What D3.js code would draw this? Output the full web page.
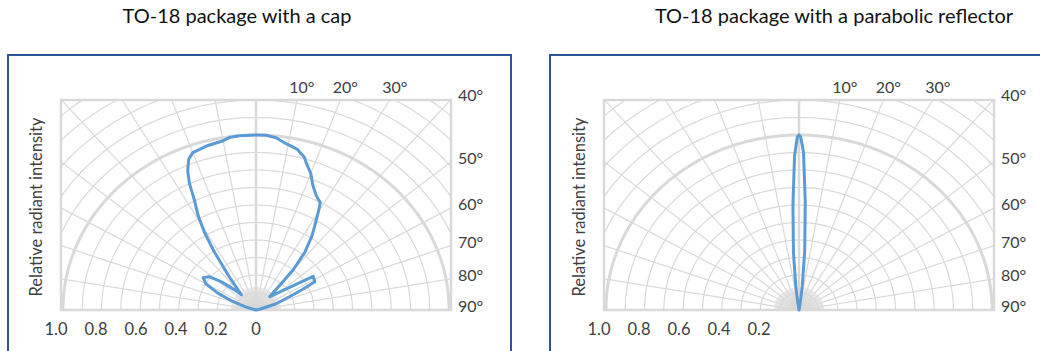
<!DOCTYPE html>
<html>
<head>
<meta charset="utf-8">
<script src="https://cdnjs.cloudflare.com/ajax/libs/d3/7.8.5/d3.min.js"></script>
<style>
body { margin: 0; background: #fff; }
svg text { font-family: Lato, "Open Sans", sans-serif; fill: #404040; }
</style>
</head>
<body>
<div class="container"></div>
<script>
// angle in degrees from the vertical axis, intensity relative to peak
var capAngles = [-90, -80, -72, -68, -64, -60, -56, -52, -48, -44, -41, -36, -33, -31, -29, -27, -25.5, -24, -22, -20, -15, -10, -8, -5, 0, 3, 6, 9.5, 13, 16, 17.5, 20, 22.5, 25.5, 28.5, 30, 33, 34.5, 37.5, 40, 41, 43, 57, 62, 64, 66, 71, 78, 80, 90];
var capIntensity = [0, 0, 0.05, 0.13, 0.22, 0.3, 0.33, 0.31, 0.24, 0.16, 0.115, 0.24, 0.4, 0.52, 0.62, 0.7, 0.8, 0.87, 0.93, 0.957, 0.972, 0.982, 0.995, 1.0, 1.0, 1.0, 0.99, 0.962, 0.944, 0.908, 0.874, 0.83, 0.77, 0.725, 0.697, 0.645, 0.55, 0.51, 0.415, 0.3, 0.2, 0.105, 0.353, 0.345, 0.27, 0.2, 0.11, 0.02, 0, 0];

var reflectorAngles = [-10, -8, -7, -5, -3, -1.5, -0.5, 0, 0.5, 1.5, 3, 5, 7, 8, 10];
var reflectorIntensity = [0, 0.06, 0.135, 0.33, 0.6, 0.88, 0.99, 1.0, 0.99, 0.9, 0.62, 0.34, 0.14, 0.07, 0];

var titles = ["TO-18 package with a cap", "TO-18 package with a parabolic reflector"];
var capTicks = ["1.0", "0.8", "0.6", "0.4", "0.2", "0"];
var reflectorTicks = ["1.0", "0.8", "0.6", "0.4", "0.2"];
var topAngles = [10, 20, 30];
var sideAngles = [40, 50, 60, 70, 80, 90];
var yTitle = "Relative radiant intensity";

const WIDTH = 1040;
const HEIGHT = 351;
const X_MAX = 1.01;
const Y_MAX = 1.2;

var toXY = function (s, deg, r) {
    var a = deg * Math.PI / 180;
    return [s.x(r * Math.sin(a)), s.y(r * Math.cos(a))];
};

var createScales = function (cx) {
    return {
        x: d3.scaleLinear().domain([-X_MAX, X_MAX]).range([cx - 195, cx + 195]),
        y: d3.scaleLinear().domain([0, Y_MAX]).range([310, 100]),
        tick: d3.scaleLinear().domain([0, 1]).range([cx, cx - 200])
    };
};

var drawChart = function (svg, id, frameX, cx, titleX, title, angles, values, ticks) {
    var s = createScales(cx);
    var grid = '#d9d9d9';

    svg.append('rect').attr('x', frameX).attr('y', 55).attr('width', 503).attr('height', 320)
        .attr('fill', 'none').attr('stroke', '#2f5597').attr('stroke-width', 2);

    svg.append('text').attr('x', titleX).attr('y', 23).attr('text-anchor', 'middle')
        .style('font-size', '20px').style('fill', '#111').text(title);

    svg.append('clipPath').attr('id', id).append('rect')
        .attr('x', s.x(-X_MAX)).attr('y', s.y(Y_MAX))
        .attr('width', s.x(X_MAX) - s.x(-X_MAX)).attr('height', s.y(0) - s.y(Y_MAX));

    var g = svg.append('g').attr('clip-path', 'url(#' + id + ')');
    var deg = d3.range(-90, 90.5, 1);

    // concentric intensity arcs
    d3.range(1, 16).forEach(function (k) {
        var r = k / 10;
        g.append('path')
            .attr('d', d3.line()(deg.map(function (d) { return toXY(s, d, r); })))
            .attr('fill', 'none').attr('stroke', grid)
            .attr('stroke-width', k === 10 ? 3 : 1.2);
    });

    // fine fan near the origin
    d3.range(-87.5, 88, 2.5).forEach(function (d) {
        if (d % 10 === 0) return;
        var p0 = toXY(s, d, 0), p1 = toXY(s, d, 0.13);
        g.append('line').attr('x1', p0[0]).attr('y1', p0[1]).attr('x2', p1[0]).attr('y2', p1[1])
            .attr('stroke', grid).attr('stroke-width', 0.7);
    });

    // radial angle lines
    d3.range(-80, 81, 10).forEach(function (d) {
        var p0 = toXY(s, d, 0), p1 = toXY(s, d, 2);
        g.append('line').attr('x1', p0[0]).attr('y1', p0[1]).attr('x2', p1[0]).attr('y2', p1[1])
            .attr('stroke', grid).attr('stroke-width', d === 0 ? 2.5 : 1.2);
    });

    svg.append('rect').attr('x', s.x(-X_MAX)).attr('y', s.y(Y_MAX))
        .attr('width', s.x(X_MAX) - s.x(-X_MAX)).attr('height', s.y(0) - s.y(Y_MAX))
        .attr('fill', 'none').attr('stroke', grid).attr('stroke-width', 2.5);

    // data curve
    var pts = angles.map(function (a, i) { return toXY(s, a, values[i]); });
    svg.append('path').attr('d', d3.line()(pts))
        .attr('fill', 'none').attr('stroke', '#5b9bd5').attr('stroke-width', 3)
        .attr('stroke-linejoin', 'round').attr('stroke-linecap', 'round');

    // intensity tick labels
    svg.selectAll('.tick-' + id).data(ticks).enter().append('text')
        .attr('x', function (d) { return s.tick(+d); }).attr('y', 335)
        .attr('text-anchor', 'middle').style('font-size', '16.5px').text(function (d) { return d; });

    // angle labels along the top edge
    svg.selectAll('.top-' + id).data(topAngles).enter().append('text')
        .attr('x', function (d) {
            var a = d * Math.PI / 180;
            return s.x(Y_MAX * Math.tan(a)) + 5;
        })
        .attr('y', 93).attr('text-anchor', 'middle').style('font-size', '16px')
        .text(function (d) { return d + '°'; });

    // angle labels along the right edge
    svg.selectAll('.side-' + id).data(sideAngles).enter().append('text')
        .attr('x', s.x(X_MAX) + 7)
        .attr('y', function (d) {
            var a = d * Math.PI / 180;
            return s.y(X_MAX / Math.tan(a)) + 2;
        })
        .attr('text-anchor', 'start').style('font-size', '16px')
        .text(function (d) { return d + '°'; });

    svg.append('text').attr('transform', 'translate(' + (cx - 214) + ',207) rotate(-90)')
        .attr('text-anchor', 'middle').style('font-size', '16.5px').text(yTitle);
};

var loadChart = function () {
    var svg = d3.select('.container').append('svg').attr('width', WIDTH).attr('height', HEIGHT);
    drawChart(svg, 'capClip', 8, 256, 237, titles[0], capAngles, capIntensity, capTicks);
    drawChart(svg, 'refClip', 550, 799, 834, titles[1], reflectorAngles, reflectorIntensity, reflectorTicks);
};

window.onload = loadChart;
</script>
</body>
</html>
